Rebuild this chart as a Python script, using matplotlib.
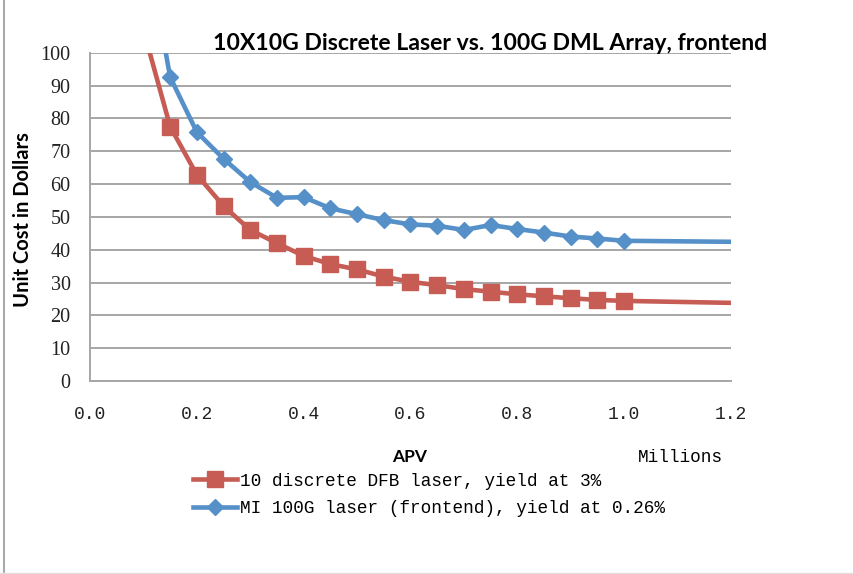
import matplotlib.pyplot as plt
import matplotlib.lines as mlines
import numpy as np

# APV in millions, unit cost in dollars
apv = [0.10, 0.15, 0.20, 0.25, 0.30, 0.35, 0.40, 0.45, 0.50, 0.55, 0.60,
       0.65, 0.70, 0.75, 0.80, 0.85, 0.90, 0.95, 1.00, 1.20]
cost_dfb = [107, 77.5, 62.8, 53.3, 46.0, 42.0, 38.1, 35.6, 34.0, 31.8, 30.2,
            29.2, 28.0, 27.2, 26.4, 25.8, 25.2, 24.7, 24.4, 23.8]
cost_dml = [138, 92.6, 75.8, 67.7, 60.6, 55.8, 56.0, 52.6, 50.8, 49.0, 47.7,
            47.3, 46.0, 47.5, 46.3, 45.2, 44.0, 43.4, 42.7, 42.4]
label_dfb = "10 discrete DFB laser, yield at 3%"
label_dml = "MI 100G laser (frontend), yield at 0.26%"
xticks = [0.0, 0.2, 0.4, 0.6, 0.8, 1.0, 1.2]
yticks = list(range(0, 101, 10))

red = "#C65C54"
blue = "#5590C8"
grey = "#A6A6A6"
mono = "Liberation Mono"
serif = "Liberation Serif"
bold = "Lato"

W, H = 854, 574
fig = plt.figure(figsize=(W / 100, H / 100), dpi=100)
ax = fig.add_axes([90 / W, 1 - 381 / H, 641 / W, 328.3 / H])

marks = list(range(1, 19))
ax.plot(apv, cost_dfb, color=red, lw=3.3, marker="s", ms=11,
        markevery=marks, label=label_dfb, zorder=3)
ax.plot(apv, cost_dml, color=blue, lw=3.3, marker="D", ms=8,
        markevery=marks, label=label_dml, zorder=4)

ax.set_xlim(0, 1.2)
ax.set_ylim(0, 100)
ax.set_xticks(xticks)
ax.set_xticklabels(["%.1f" % t for t in xticks], fontfamily=mono, fontsize=13)
ax.set_yticks(yticks)
ax.set_yticklabels([str(t) for t in yticks], fontfamily=serif, fontsize=14.5)
ax.tick_params(axis="x", length=0, pad=18, colors="#222222")
ax.tick_params(axis="y", length=0, pad=14, colors="#222222")
ax.yaxis.grid(True, color=grey, lw=1.4)
ax.set_axisbelow(True)
for s in ["top", "right"]:
    ax.spines[s].set_visible(False)
for s in ["left", "bottom"]:
    ax.spines[s].set_color(grey)
    ax.spines[s].set_linewidth(1.4)

# texts
fig.text(490 / W, 1 - 50 / H, "10X10G Discrete Laser vs. 100G DML Array, frontend",
         ha="center", va="baseline", fontfamily=bold, fontweight="bold", fontsize=16.6)
fig.text(23 / W, 1 - 220 / H, "Unit Cost in Dollars", rotation=90,
         ha="center", va="center", fontfamily=bold, fontweight="bold", fontsize=14.5)
fig.text(410 / W, 1 - 457 / H, "APV", ha="center", va="center",
         fontfamily=bold, fontweight="bold", fontsize=12.5)
fig.text(723 / W, 1 - 457 / H, "Millions", ha="right", va="center",
         fontfamily=mono, fontsize=12.8)

leg = fig.legend(loc="center left", bbox_to_anchor=(193 / W, 1 - 495 / H),
                 frameon=False, borderpad=0, borderaxespad=0,
                 handlelength=2.45, handletextpad=0.2, labelspacing=0.6,
                 prop={"family": mono, "size": 12.8})

# chart border remnants
fig.add_artist(mlines.Line2D([4 / W, 4 / W], [0, 1], color="#AAAAAA", lw=1.5))
fig.add_artist(mlines.Line2D([0, 1], [1.5 / H, 1.5 / H], color="#E0E0E0", lw=1))

fig.savefig("out.png", dpi=100)
